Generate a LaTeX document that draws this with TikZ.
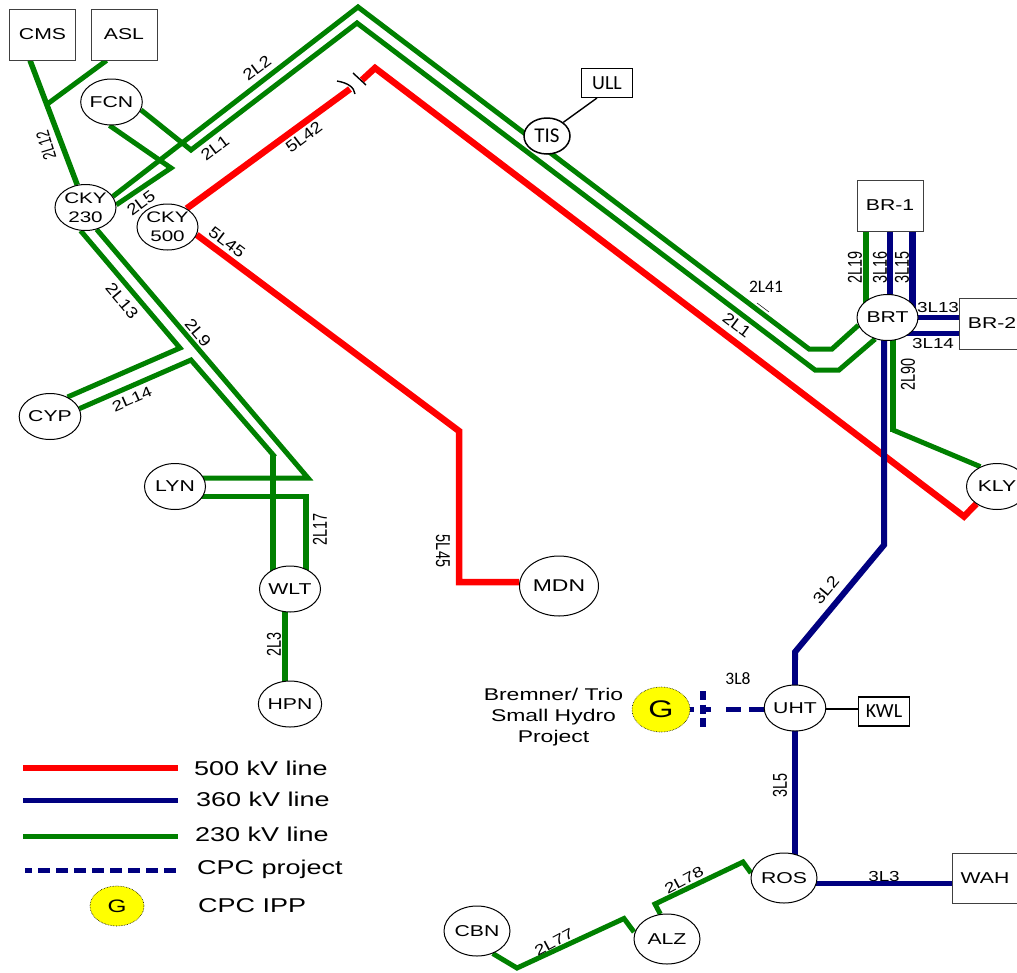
\documentclass[tikz,border=0pt]{standalone}
\usepackage{fontspec}
\setmainfont[FakeStretch=1.35]{Liberation Sans}
\newfontfamily\fv[FakeStretch=0.72]{Liberation Sans}
\newfontfamily\fd[FakeStretch=1.15]{Liberation Sans}
\newfontfamily\fh[FakeStretch=1.3]{Liberation Sans}
\newfontfamily\calib{Carlito}
\usetikzlibrary{shapes.geometric}
\pgfdeclarelayer{lines}
\pgfsetlayers{lines,main}
\definecolor{gline}{RGB}{0,128,0}
\definecolor{nline}{RGB}{0,0,128}
\definecolor{rline}{RGB}{255,0,0}
\definecolor{gfill}{RGB}{255,255,0}
\tikzset{
  stn/.style={draw=black,fill=white,ellipse,line width=1pt,minimum width=61pt,minimum height=46pt,inner sep=0pt,font=\fontsize{15.7}{19}\selectfont,align=center},
  bigstn/.style={stn,minimum width=66pt,minimum height=50pt},
  boxn/.style={draw=black!75,fill=white,rectangle,line width=0.9pt,minimum width=66pt,minimum height=51pt,inner sep=0pt,font=\fontsize{15.7}{18}\selectfont},
  smallbox/.style={draw=black,fill=white,rectangle,line width=1.5pt,minimum width=51pt,minimum height=29pt,inner sep=0pt,font=\calib\fontsize{20}{22}\selectfont},
  gen/.style={draw=black,densely dotted,fill=gfill,ellipse,line width=0.6pt,inner sep=0pt},
  grn/.style={draw=gline,line width=5pt},
  grnv/.style={draw=gline,line width=6.5pt},
  nvy/.style={draw=nline,line width=6pt},
  nvyv/.style={draw=nline,line width=6.5pt},
  nvyh/.style={draw=nline,line width=5pt},
  red5/.style={draw=rline,line width=6.5pt},
  thinl/.style={draw=black,line width=1.4pt},
  lv/.style={font=\fv\fontsize{20}{22}\selectfont,inner sep=0pt},
  ld/.style={font=\fd\fontsize{16}{18}\selectfont,inner sep=0pt},
  lh/.style={font=\fh\fontsize{14.5}{16}\selectfont,inner sep=0pt},
  clbl/.style={font=\calib\fontsize{17.5}{18}\selectfont,inner sep=0pt},
  leg/.style={font=\fontsize{20}{22}\selectfont,anchor=west,inner sep=0pt},
}
\begin{document}
\begin{tikzpicture}[x=1pt,y=-1pt]
\useasboundingbox (0,0) rectangle (1017,972);
% stations
\node[boxn] (CMS) at (42.5,34.5) {CMS};
\node[boxn] (ASL) at (124,34.5) {ASL};
\node[stn] (FCN) at (111.5,102) {FCN};
\node[stn,font=\fontsize{15.3}{19}\selectfont] (CKYa) at (85.5,207.5) {CKY\\230};
\node[stn,font=\fontsize{15.3}{19}\selectfont] (CKYb) at (167.5,227) {CKY\\500};
\node[stn,minimum width=46pt,minimum height=36pt,line width=1.5pt,font=\calib\fontsize{21}{22}\selectfont] (TIS) at (547,136) {TIS};
\node[smallbox] (ULL) at (607,83) {ULL};
\node[boxn] (BRa) at (890,205.5) {BR-1};
\node[boxn] (BRb) at (992,323.5) {BR-2};
\node[stn] (BRT) at (887.5,317.5) {BRT};
\node[stn] (KLY) at (997,486.5) {KLY};
\node[stn] (CYP) at (50,416.5) {CYP};
\node[stn] (LYN) at (175,486.5) {LYN};
\node[stn] (WLT) at (290,589) {WLT};
\node[stn] (HPN) at (290,704) {HPN};
\node[stn,minimum width=79pt,minimum height=60pt,font=\fontsize{17}{19}\selectfont] (MDN) at (559,586) {MDN};
\node[stn] (UHT) at (795,708) {UHT};
\node[smallbox,line width=1.5pt] (KWL) at (884,711.5) {KWL};
\node[gen,minimum width=58pt,minimum height=45pt,font=\fontsize{24}{26}\selectfont] (GA) at (661,709.5) {G};
\node[font=\fontsize{17}{21}\selectfont,align=center,inner sep=0pt] (BTS) at (553.5,717) {Bremner/ Trio\\Small Hydro\\Project};
\node[bigstn] (ROS) at (784,878) {ROS};
\node[bigstn] (ALZ) at (667,939) {ALZ};
\node[bigstn] (CBN) at (477,931) {CBN};
\node[boxn,minimum height=50pt] (WAH) at (985,878) {WAH};
% legend
\coordinate (LrA) at (23,768); \coordinate (LrB) at (178,768);
\coordinate (LnA) at (23,800); \coordinate (LnB) at (178,800);
\coordinate (LgA) at (23,836.5); \coordinate (LgB) at (178,836.5);
\coordinate (LdA) at (25,870); \coordinate (LdB) at (178,870);
\node[gen,minimum width=54pt,minimum height=40pt,font=\fontsize{18}{20}\selectfont] (GB) at (117,906) {G};
\node[leg] (t500) at (194,768) {500 kV line};
\node[leg] (t360) at (196,799) {360 kV line};
\node[leg] (t230) at (195,834) {230 kV line};
\node[leg] (tprj) at (197,869) {CPC project};
\node[leg] (tipp) at (198,906) {CPC IPP};
% line labels
\node[lv,font=\fv\fontsize{18.5}{20}\selectfont,rotate=107] (a1) at (46,145) {2L12};
\node[ld,rotate=37] (a2) at (257,68) {2L2};
\node[ld,rotate=37] (a3) at (215,148) {2L1};
\node[ld,rotate=37] (a4) at (141,203) {2L5};
\node[ld,rotate=37] (a5) at (304,137) {5L42};
\node[ld,rotate=-37] (a6) at (227,242) {5L45};
\node[ld,rotate=-50] (a7) at (122,301) {2L13};
\node[ld,rotate=-50] (a8) at (198,333) {2L9};
\node[lh,rotate=24] (a9) at (132,399) {2L14};
\node[lv,rotate=90] (a10) at (320,529) {2L17};
\node[lv,rotate=90] (a11) at (274,644) {2L3};
\node[lv,rotate=-90] (a12) at (443,551) {5L45};
\node[lv,rotate=90] (a13) at (855,267) {2L19};
\node[lv,rotate=90] (a14) at (880,267) {3L16};
\node[lv,rotate=90] (a15) at (902,267) {3L15};
\node[lh] (a16) at (938,308) {3L13};
\node[lh] (a17) at (933,344) {3L14};
\node[lv,rotate=90] (a18) at (908,374) {2L90};
\node[clbl] (a19) at (766,287) {2L41};
\node[ld,rotate=-37] (a20) at (737,325) {2L1};
\node[ld,rotate=50] (a21) at (826,590) {3L2};
\node[clbl] (a22) at (738,679) {3L8};
\node[lv,rotate=90] (a23) at (780,785) {3L5};
\node[lh] (a24) at (884,876) {3L3};
\node[lh,rotate=28] (a25) at (684,880) {2L78};
\node[lh,rotate=28] (a26) at (554,942) {2L77};
\begin{pgfonlayer}{lines}
% port coordinates
\coordinate (v19) at (866,250); \coordinate (v16) at (890,250); \coordinate (v15) at (912.5,250);
\coordinate (h13) at (930,317); \coordinate (h14) at (930,333);
\coordinate (v5) at (884,400); \coordinate (v90) at (893,400); \coordinate (v3) at (285,640);
\coordinate (vL) at (273,500); \coordinate (vR) at (306,520);
\coordinate (h78) at (800,883); \coordinate (hA) at (250,478); \coordinate (hB) at (250,496);
\coordinate (hm) at (500,582); \coordinate (hk) at (840,709); \coordinate (hd) at (730,709);
\coordinate (dvA) at (703,691); \coordinate (dvB) at (703,727);
\coordinate (bend90) at (893,430);
\coordinate (ullp) at (597,98);
% red
\coordinate (capL) at (350,89); \coordinate (capT) at (362,80);
\draw[red5] (CKYb.44) -- (capL);
\draw[red5] (capT) -- (375,68) -- (964,516.5) -- (KLY.220);
\draw[red5] (CKYb.345) -- (459,431) -- (459,582) -- (hm -| MDN.west);
\draw[red5] (LrA) -- (LrB);
% capacitor symbol
\coordinate (capA) at (337,81); \coordinate (capB) at (355,94);
\coordinate (capC) at (353,73); \coordinate (capD) at (366,85);
\draw[thinl] (capA) .. controls (348,83) and (354,87) .. (capB);
\draw[thinl] (capC) -- (capD);
% green
\draw[grn,line width=5.5pt] (CMS.south west) ++(21,0) -- (CKYa.110);
\coordinate (brCMS) at (46,105);
\draw[grn] (ASL.south west) ++(16,0) -- (brCMS);
\draw[grn] (FCN.345) -- (191,150) -- (357,23) -- (815,370) -- (839,370) -- (BRT.240);
\draw[grn] (CKYa.22) -- (358,7) -- (809,349) -- (832,349) -- (BRT.195);
\draw[grn] (FCN.265) -- (171,168) -- (CKYa.5);
\draw[grn] (CKYa.258) -- (180,348) -- (CYP.48);
\draw[grn] (CKYa.297) -- (308,478) -- (hA -| LYN.center);
\draw[grn] (hB -| LYN.center) -- (308.5,496);
\draw[grnv] (vR |- hB) -- (vR |- WLT);
\draw[grn] (CYP.15) -- (191,360) -- (275,457);
\draw[grnv] (273,455) -- (vL |- WLT);
\draw[grnv] (v3 |- WLT) -- (v3 |- HPN);
\draw[grnv] (v19 |- BRa.south) -- (v19 |- BRT);
\draw[grnv] (v90 |- BRT) -- (893,432);
\draw[grn] (bend90) -- (KLY.130);
\draw[grn] (ROS.center) ++(-33,-5) -- (743,862) -- (655,904) -- (ALZ.105);
\draw[grn] (ALZ.center) ++(-33,-7) -- (624,918.5) -- (517,968) -- (CBN.305);
\draw[grn] (LgA) -- (LgB);
% navy
\draw[nvyv] (v16 |- BRa.south) -- (v16 |- BRT);
\draw[nvyv] (v15 |- BRa.south) -- (v15 |- BRT);
\draw[nvyh] (h13 -| BRT) -- (h13 -| BRb.west);
\draw[nvyh] (h14 -| BRT) -- (h14 -| BRb.west);
\draw[nvy] (v5 |- BRT) -- (884,545) -- (795,652) -- (795,660);
\draw[nvyv] (795,652) -- (UHT.center);
\draw[nvyv] (UHT.center) -- (ROS.center -| UHT.center);
\draw[nvyh] (h78 -| ROS) -- (h78 -| WAH.west);
\draw[nvyh] (LnA) -- (LnB);
\draw[nvyh,dash pattern=on 15pt off 8pt on 15pt off 15pt on 8pt off 9pt on 6pt] (hd -| UHT.west) -- (hd -| GA.east);
\draw[nvy,dash pattern=on 9pt off 4.7pt] (dvA) -- (dvB);
\draw[nvyh,dash pattern=on 12pt off 6pt,dash phase=5pt] (LdA) -- (LdB);
% thin
\draw[thinl] (hk -| UHT.center) -- (hk -| KWL.west);
\draw[thinl] (TIS.40) -- (ullp);
\coordinate (tickA) at (757,303); \coordinate (tickB) at (769,312);
\draw[black,line width=0.5pt] (tickA) -- (tickB);
\end{pgfonlayer}
\end{tikzpicture}
\end{document}
